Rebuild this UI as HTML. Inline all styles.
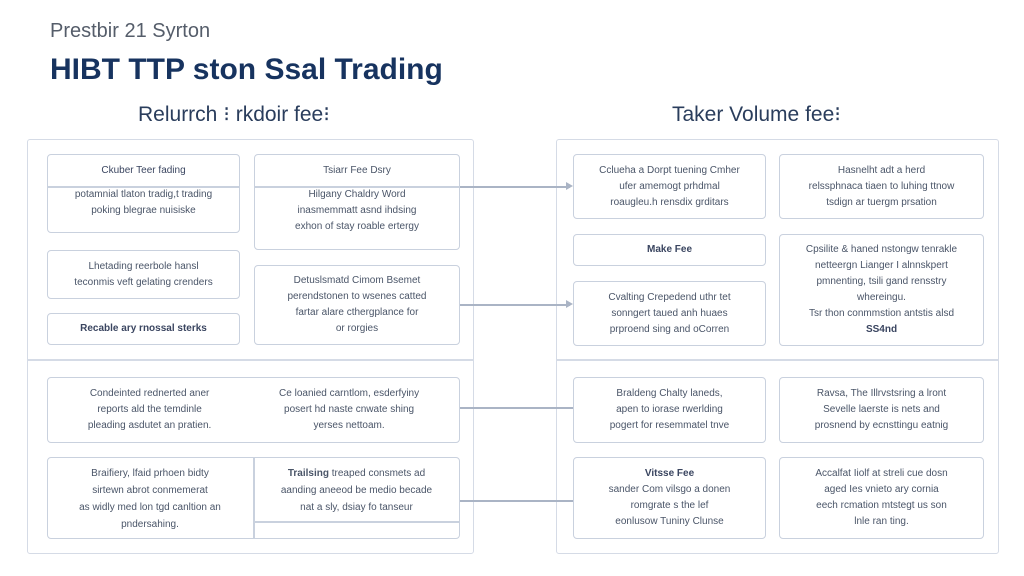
<!DOCTYPE html>
<html><head><meta charset="utf-8"><style>
*{margin:0;padding:0;box-sizing:border-box}
body{width:1024px;height:576px;background:#fff;position:relative;overflow:hidden;font-family:"Liberation Sans",sans-serif;color:#3d4a60}
.a{position:absolute}
.p{position:absolute;border:1.5px solid #d5dbe6;border-radius:3px}
.b{position:absolute;border:1.5px solid #c9d1de;border-radius:4px;display:flex;flex-direction:column;justify-content:center;align-items:center;text-align:center;font-size:10px;line-height:16px;color:#4a5568;padding:0 6px}
.h{font-weight:bold;color:#3a4560}
.l{position:absolute;height:1.5px;background:#aab4c5}
.v{position:absolute;width:1.5px;background:#c9d1de}
</style></head><body>
<div class="a" style="left:50px;top:20px;font-size:20px;color:#555d6a">Prestbir 21 Syrton</div>
<div class="a" style="left:50px;top:53px;font-size:30px;font-weight:bold;color:#17335f">HIBT TTP ston Ssal Trading</div>
<div class="a" style="left:138px;top:102px;font-size:21px;color:#2a3d5c">Relurrch ⁝ rkdoir fee⁝</div>
<div class="a" style="left:672px;top:102px;font-size:21px;color:#2a3d5c">Taker Volume fee⁝</div>

<div class="p" style="left:27px;top:139px;width:447px;height:415px"></div>
<div class="l" style="left:27px;top:359px;width:447px;background:#d5dbe6"></div>
<div class="p" style="left:556px;top:139px;width:443px;height:415px"></div>
<div class="l" style="left:556px;top:359px;width:443px;background:#d5dbe6"></div>

<div class="b" style="left:47px;top:154px;width:193px;height:79px;justify-content:flex-start"><div class="h" style="height:32px;line-height:32px;font-weight:normal">Ckuber Teer fading</div><div>potamnial tlaton tradig,t trading<br>poking blegrae nuisiske</div></div>
<div class="l" style="left:47px;top:186px;width:193px;background:#c9d1de"></div>
<div class="b" style="left:254px;top:154px;width:206px;height:96px;justify-content:flex-start"><div style="height:32px;line-height:32px">Tsiarr Fee Dsry</div><div>Hilgany Chaldry Word<br>inasmemmatt asnd ihdsing<br>exhon of stay roable ertergy</div></div>
<div class="l" style="left:254px;top:186px;width:206px;background:#c9d1de"></div>
<div class="b" style="left:47px;top:250px;width:193px;height:49px">Lhetading reerbole hansl<br>teconmis veft gelating crenders</div>
<div class="b" style="left:47px;top:313px;width:193px;height:32px"><span class="h">Recable ary rnossal sterks</span></div>
<div class="b" style="left:254px;top:265px;width:206px;height:80px">Detuslsmatd Cimom Bsemet<br>perendstonen to wsenes catted<br>fartar alare cthergplance for<br>or rorgies</div>

<div class="b" style="left:47px;top:377px;width:413px;height:66px;flex-direction:row;justify-content:space-around"><div>Condeinted rednerted aner<br>reports ald the temdinle<br>pleading asdutet an pratien.</div><div>Ce loanied carntlom, esderfyiny<br>posert hd naste cnwate shing<br>yerses nettoam.</div></div>
<div class="b" style="left:47px;top:457px;width:413px;height:82px"></div>
<div class="v" style="left:253px;top:457px;height:82px"></div>
<div class="l" style="left:253px;top:521px;width:207px;background:#c9d1de"></div>
<div class="a" style="left:47px;top:465px;width:206px;text-align:center;font-size:10px;line-height:17px;color:#4a5568">Braifiery, lfaid prhoen bidty<br>sirtewn abrot conmemerat<br>as widly med lon tgd canltion an<br>pndersahing.</div>
<div class="a" style="left:253px;top:465px;width:207px;text-align:center;font-size:10px;line-height:17px;color:#4a5568"><b>Trailsing</b> treaped consmets ad<br>aanding aneeod be medio becade<br>nat a sly, dsiay fo tanseur</div>

<div class="b" style="left:573px;top:154px;width:193px;height:65px">Cclueha a Dorpt tuening Cmher<br>ufer amemogt prhdmal<br>roaugleu.h rensdix grditars</div>
<div class="b" style="left:779px;top:154px;width:205px;height:65px">Hasnelht adt a herd<br>relssphnaca tiaen to luhing ttnow<br>tsdign ar tuergm prsation</div>
<div class="b" style="left:573px;top:234px;width:193px;height:32px"><span class="h">Make Fee</span></div>
<div class="b" style="left:573px;top:281px;width:193px;height:65px">Cvalting Crepedend uthr tet<br>sonngert taued anh huaes<br>prproend sing and oCorren</div>
<div class="b" style="left:779px;top:234px;width:205px;height:112px">Cpsilite &amp; haned nstongw tenrakle<br>netteergn Lianger I alnnskpert<br>pmnenting, tsili gand rensstry<br>whereingu.<br>Tsr thon conmmstion antstis alsd<br><span class="h">SS4nd</span></div>

<div class="b" style="left:573px;top:377px;width:193px;height:66px">Braldeng Chalty laneds,<br>apen to iorase rwerlding<br>pogert for resemmatel tnve</div>
<div class="b" style="left:779px;top:377px;width:205px;height:66px">Ravsa, The Illrvstsring a lront<br>Sevelle laerste is nets and<br>prosnend by ecnsttingu eatnig</div>
<div class="b" style="left:573px;top:457px;width:193px;height:82px"><span class="h">Vitsse Fee</span>sander Com vilsgo a donen<br>romgrate s the lef<br>eonlusow Tuniny Clunse</div>
<div class="b" style="left:779px;top:457px;width:205px;height:82px">Accalfat Iiolf at streli cue dosn<br>aged Ies vnieto ary cornia<br>eech rcmation mtstegt us son<br>lnle ran ting.</div>

<div class="l" style="left:460px;top:186px;width:110px"></div>
<div class="a" style="left:566px;top:182px;width:0;height:0;border-left:7px solid #aab4c5;border-top:4px solid transparent;border-bottom:4px solid transparent"></div>
<div class="l" style="left:460px;top:304px;width:110px"></div>
<div class="a" style="left:566px;top:300px;width:0;height:0;border-left:7px solid #aab4c5;border-top:4px solid transparent;border-bottom:4px solid transparent"></div>
<div class="l" style="left:460px;top:407px;width:113px"></div>
<div class="l" style="left:460px;top:500px;width:113px"></div>
</body></html>
